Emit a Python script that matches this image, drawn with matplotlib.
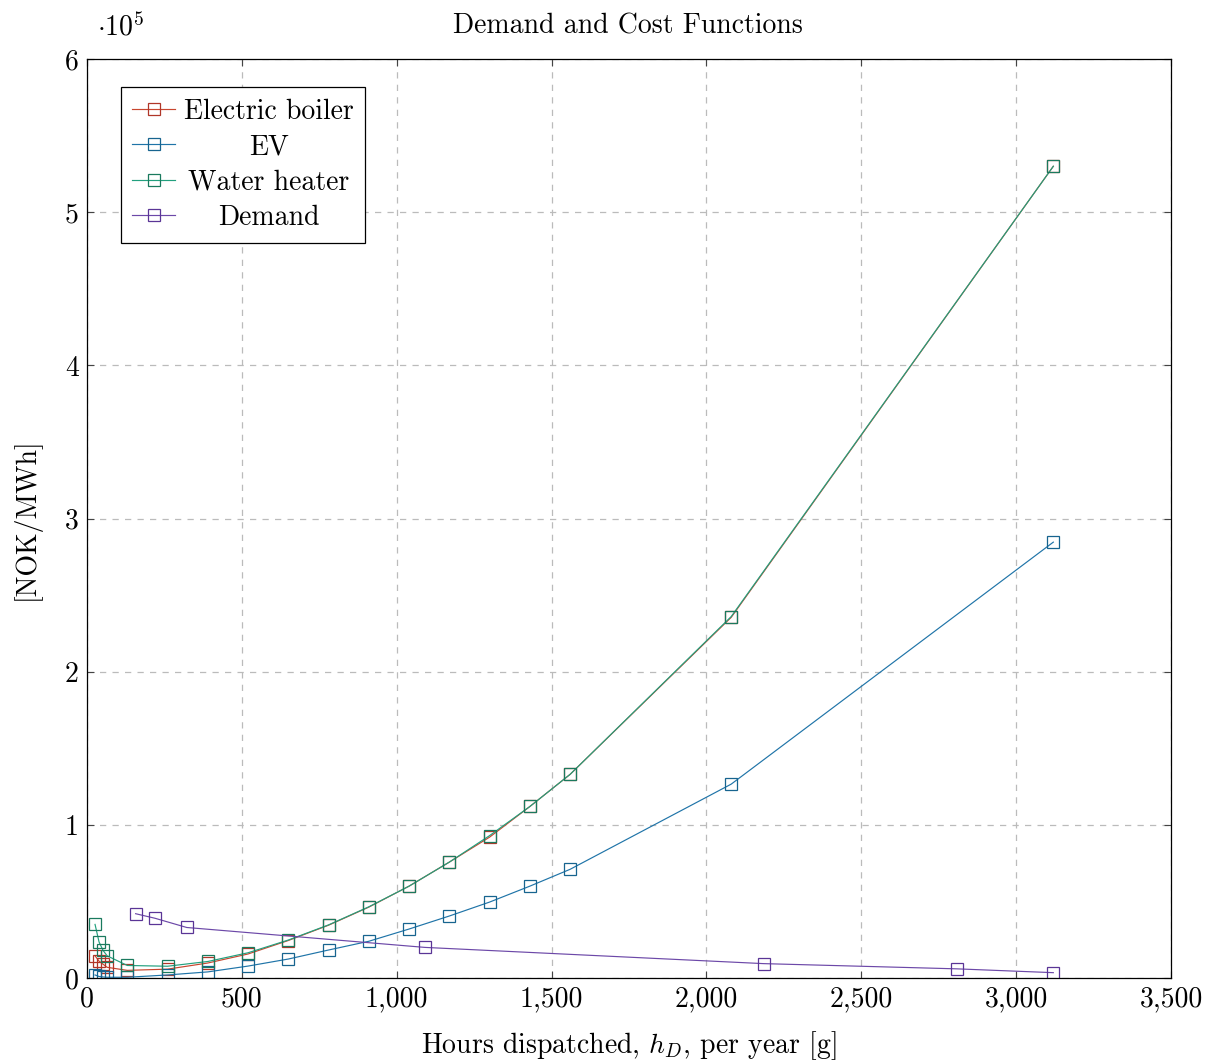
import matplotlib
matplotlib.use("Agg")
import matplotlib.pyplot as plt
from matplotlib.ticker import FuncFormatter, MultipleLocator

plt.rcParams["font.family"] = "serif"
plt.rcParams["font.serif"] = ["cmr10", "DejaVu Serif"]
plt.rcParams["mathtext.fontset"] = "cm"
plt.rcParams["axes.formatter.use_mathtext"] = True

# Hours dispatched per year for the cost curves
hours_cost = [26, 39, 52, 65, 130, 260, 390, 520, 650, 780, 910, 1040,
              1170, 1300, 1430, 1560, 2080, 3120]
# Cost functions [NOK/MWh]
boiler_cost = [14500, 11000, 9000, 7000, 5000, 5800, 9800, 15700, 24500,
               34500, 46300, 60000, 75700, 92000, 112000, 133000, 235500, 530000]
ev_cost = [2000, 1000, 700, 500, 500, 2000, 4000, 7800, 12400, 18300, 24000,
           32000, 40500, 49600, 60000, 71000, 126600, 284600]
water_cost = [35000, 23500, 18000, 14500, 8200, 7700, 10800, 16500, 24800,
              34700, 46500, 60000, 75700, 93000, 112000, 133000, 236000, 530000]
# Demand curve
hours_demand = [157, 220, 322, 1091, 2185, 2808, 3120]
demand = [42000, 39000, 33000, 20000, 9400, 6000, 3500]

series_names = ["Electric boiler", "EV", "Water heater", "Demand"]
line_colors = ["#c8462f", "#1f74a8", "#22a07e", "#6c48a8"]
edge_colors = ["#b03628", "#17648f", "#1a7a5e", "#5a3596"]

FS = 20

fig = plt.figure(figsize=(12.15, 10.64), dpi=100)
ax = fig.add_axes([0.0716, 0.0808, 0.8922, 0.8637])

datasets = [(hours_cost, boiler_cost), (hours_cost, ev_cost),
            (hours_cost, water_cost), (hours_demand, demand)]
for (xs, ys), name, c, ec in zip(datasets, series_names, line_colors,
                                 edge_colors):
    ax.plot(xs, ys, color=c, lw=0.85, marker="s", markersize=8.2,
            markerfacecolor="none", markeredgecolor=ec,
            markeredgewidth=0.9, label=name)

ax.set_xlim(0, 3500)
ax.set_ylim(0, 600000)
ax.xaxis.set_major_locator(MultipleLocator(500))
ax.yaxis.set_major_locator(MultipleLocator(100000))
ax.xaxis.set_major_formatter(FuncFormatter(lambda v, p: f"{int(v):,}"))
ax.yaxis.set_major_formatter(FuncFormatter(lambda v, p: f"{v / 1e5:g}"))

ax.grid(True, color="#bbbbbb", linestyle=(0, (5, 5)), linewidth=0.9)
ax.set_axisbelow(True)
ax.tick_params(direction="in", length=5, width=0.8, top=True, right=True,
               labelsize=FS, pad=6, colors="#444444", labelcolor="black")
for s in ax.spines.values():
    s.set_linewidth(0.9)

ax.text(97 / 1215, 1 - 35 / 1064, r"$\cdot 10^5$", transform=fig.transFigure,
        fontsize=FS, ha="left", va="baseline")
fig.text(0.5166, 1 - 33 / 1064, "Demand and Cost Functions", fontsize=FS,
         ha="center", va="baseline")
ax.set_xlabel(r"Hours dispatched, $h_D$, per year [g]", fontsize=FS,
              labelpad=12)
ax.set_ylabel("[NOK/MWh]", fontsize=FS, labelpad=17)

leg = ax.legend(loc="upper left", bbox_to_anchor=(0.031, 0.97), fontsize=FS,
                fancybox=False, edgecolor="black", framealpha=1,
                handlelength=1.55, handletextpad=0.3, borderpad=0.42,
                labelspacing=0.33, borderaxespad=0.0)
leg.get_frame().set_linewidth(0.9)

# Center the legend labels within their column
renderer = fig.canvas.get_renderer()
texts = leg.get_texts()
widths = [t.get_window_extent(renderer).width for t in texts]
wmax = max(widths)
for t, w in zip(texts, widths):
    t.set_position(((wmax - w) / 2, 0))

fig.savefig("out.png", dpi=100)
